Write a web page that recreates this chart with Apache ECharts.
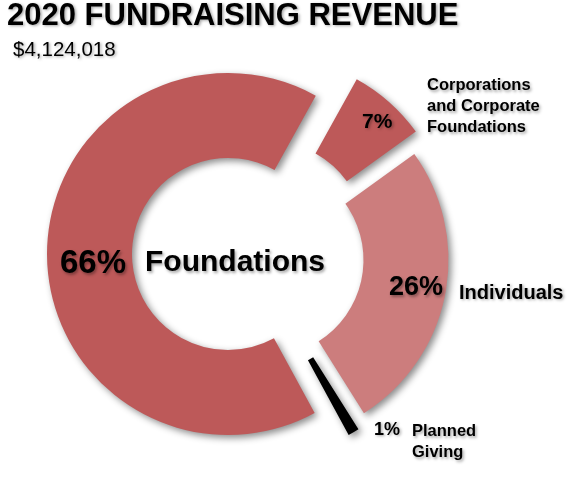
<!DOCTYPE html>
<html>
<head>
<meta charset="utf-8">
<script src="https://cdn.jsdelivr.net/npm/echarts@6/dist/echarts.min.js"></script>
<style>
html,body{margin:0;padding:0;background:#fff;}
#chart{width:571px;height:492px;}
</style>
</head>
<body>
<div id="chart"></div>
<script>
// data
var chartTitle = '2020 FUNDRAISING REVENUE';
var totalRevenue = '$4,124,018';
var categories = ['Corporations and Corporate Foundations', 'Individuals', 'Planned Giving', 'Foundations'];
var shares = [7, 26, 1, 66];
var labelNames = ['Corporations\nand Corporate\nFoundations', 'Individuals', 'Planned\nGiving', 'Foundations'];

// look
var sliceColors = ['#bd5959', '#cc7d7d', '#000000', '#bd5959'];
var baseCenter = [228, 254];
// explode offset of each slice, px
var explode = [[41, -16.5], [39.5, 6], [34, 22], [0, 0]];
var font = '"Liberation Sans", Arial, sans-serif';

var myChart = echarts.init(document.getElementById('chart'), null, {renderer: 'canvas'});

// one pie per slice so that each piece can be pulled out on its own
var series = [];
for (var k = 0; k < shares.length; k++) {
    var data = [];
    for (var i = 0; i < shares.length; i++) {
        data.push({
            name: categories[i],
            value: shares[i],
            itemStyle: i === k ? {
                color: sliceColors[i],
                shadowBlur: 7,
                shadowColor: 'rgba(0,0,0,0.45)',
                shadowOffsetX: 3,
                shadowOffsetY: 3
            } : {color: 'rgba(0,0,0,0)'}
        });
    }
    series.push({
        type: 'pie',
        silent: true,
        center: [baseCenter[0] + explode[k][0], baseCenter[1] + explode[k][1]],
        radius: [96, 181],
        startAngle: 61,
        clockwise: true,
        avoidLabelOverlap: false,
        itemStyle: {borderWidth: 0},
        label: {show: false},
        labelLine: {show: false},
        emphasis: {disabled: true},
        data: data
    });
}

function txt(str, x, y, size, weight, lineHeight) {
    return {
        type: 'text',
        x: x,
        y: y,
        silent: true,
        z: 100,
        style: {
            text: str,
            fill: '#000',
            font: weight + ' ' + size + 'px ' + font,
            lineHeight: lineHeight || size,
            align: 'left',
            verticalAlign: 'middle',
            textShadowColor: 'rgba(0,0,0,0.35)',
            textShadowBlur: 3,
            textShadowOffsetX: 1.5,
            textShadowOffsetY: 1.5
        }
    };
}

var pct = shares.map(function(v) { return v + '%'; });

var graphic = [
    txt(chartTitle, 7, 16, 31, 'bold'),
    txt(totalRevenue, 13, 50, 20.5, 'normal'),
    // Foundations
    txt(pct[3], 60, 264, 33, 'bold'),
    txt(labelNames[3], 145, 263, 30, 'bold'),
    // Corporations
    txt(pct[0], 362, 122, 21, 'bold'),
    txt(labelNames[0], 427, 106.5, 16.5, 'bold', 21),
    // Individuals
    txt(pct[1], 389, 288, 27, 'bold'),
    txt(labelNames[1], 459, 293, 20, 'bold'),
    // Planned Giving
    txt(pct[2], 374, 430, 18, 'bold'),
    txt(labelNames[2], 412, 442, 16.5, 'bold', 21)
];

myChart.setOption({
    backgroundColor: '#fff',
    animation: false,
    series: series,
    graphic: graphic
});
</script>
</body>
</html>
